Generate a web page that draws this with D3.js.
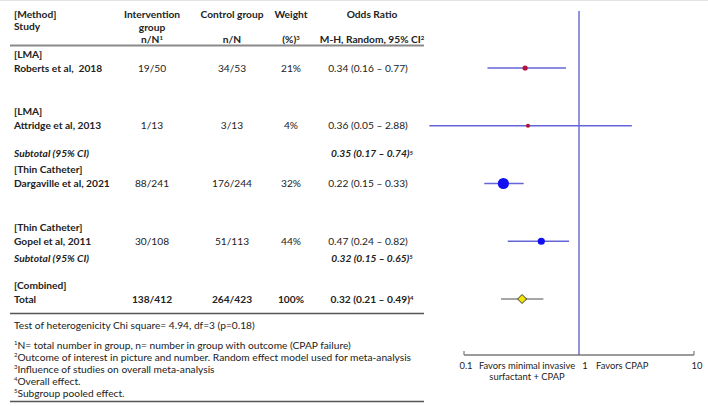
<!DOCTYPE html>
<html><head><meta charset="utf-8">
<script src="https://cdn.jsdelivr.net/npm/d3@7"></script>
<style>
body{margin:0;background:#fff;}
svg text{font-family:Lato,"Open Sans",sans-serif;font-size:10.2px;fill:#222;white-space:pre;}
svg text.ax{font-size:9.4px;}
</style></head>
<body><svg id="c" width="708" height="406"></svg>
<script>
// ---- data ----
const methods = ["[LMA]", "[LMA]", "[Thin Catheter]", "[Thin Catheter]"];
const studies = ["Roberts et al,  2018", "Attridge et al, 2013", "Dargaville et al, 2021", "Gopel et al, 2011"];
const intervention = ["19/50", "1/13", "88/241", "30/108"];
const control = ["34/53", "3/13", "176/244", "51/113"];
const weights = [21, 4, 32, 44];
const oddsRatio = [0.34, 0.36, 0.22, 0.47];
const ciLow = [0.16, 0.05, 0.15, 0.24];
const ciHigh = [0.77, 2.88, 0.33, 0.82];
const subtotalAfter = ["Attridge et al, 2013", "Gopel et al, 2011"];
const subtotalOR = [0.35, 0.32];
const subtotalLow = [0.17, 0.15];
const subtotalHigh = [0.74, 0.65];
const totalIntervention = "138/412";
const totalControl = "264/423";
const totalWeight = 100;
const totalOR = 0.32, totalLow = 0.21, totalHigh = 0.49;
const axisTicks = [0.1, 1, 10];
const footnotes = [
  ["1", "N= total number in group, n= number in group with outcome (CPAP failure)"],
  ["2", "Outcome of interest in picture and number. Random effect model used for meta-analysis"],
  ["3", "Influence of studies on overall meta-analysis"],
  ["4", "Overall effect."],
  ["5", "Subgroup pooled effect."]
];
// ---- styles ----
const dotColors = ["#b3123c", "#b3123c", "#1010f0", "#1010f0"];
const dotR = [2.6, 2.1, 5.6, 3.6];
const lineBlue = "#6464d8";

const svg = d3.select("#c");
const fmt = v => v.toFixed(2);
const x = d3.scaleLog().domain([0.1, 10]).range([464, 694]);
const y = d3.scalePoint().domain([...studies, "Total"]).range([68, 299]);
const col = {study: 14, int: 152, ctl: 232, wt: 291, or: 368};

// top faint border
svg.append("line").attr("x1",0).attr("x2",708).attr("y1",0.5).attr("y2",0.5).attr("stroke","#e2e2e2");

function txt(xp, yp, s, opts = {}) {
  const t = svg.append("text").attr("x", xp).attr("y", yp).attr("dy", "0.35em")
    .attr("class", opts.cls || null)
    .attr("text-anchor", opts.anchor || "start")
    .style("font-weight", opts.bold ? "bold" : null)
    .style("font-style", opts.italic ? "italic" : null);
  t.append("tspan").text(s);
  if (opts.sup) t.append("tspan").attr("dy", "-0.4em").style("font-size", "6px").text(opts.sup);
  return t;
}

// header
txt(col.study, 14, "[Method]", {bold: true});
txt(col.study, 26, "Study", {bold: true});
txt(col.int, 14, "Intervention", {anchor: "middle", bold: true});
txt(col.int, 27, "group", {anchor: "middle", bold: true});
txt(col.int, 39, "n/N", {anchor: "middle", bold: true, sup: "1"});
txt(col.ctl, 14, "Control group", {anchor: "middle", bold: true});
txt(col.ctl, 39, "n/N", {anchor: "middle", bold: true});
txt(col.wt, 14, "Weight", {anchor: "middle", bold: true});
txt(col.wt, 39, "(%)", {anchor: "middle", bold: true, sup: "3"});
txt(col.or + 4, 14, "Odds Ratio", {anchor: "middle", bold: true});
txt(col.or + 4, 39, "M-H, Random, 95% CI", {anchor: "middle", bold: true, sup: "2"});
svg.append("line").attr("x1", 10).attr("x2", 424).attr("y1", 45.5).attr("y2", 45.5)
  .attr("stroke", "#8a8a8a").attr("stroke-width", 2.2);

// study rows
studies.forEach((s, i) => {
  const yy = y(s);
  txt(col.study, yy - 14, methods[i], {bold: true});
  txt(col.study, yy, s, {bold: true});
  txt(col.int, yy, intervention[i], {anchor: "middle"});
  txt(col.ctl, yy, control[i], {anchor: "middle"});
  txt(col.wt, yy, weights[i] + "%", {anchor: "middle"});
  txt(col.or, yy, `${fmt(oddsRatio[i])} (${fmt(ciLow[i])} \u2013 ${fmt(ciHigh[i])})`, {anchor: "middle"});
});
// subtotals
const subOffset = [28, 17];
subtotalAfter.forEach((s, i) => {
  const yy = y(s) + subOffset[i];
  txt(col.study, yy, "Subtotal (95% CI)", {bold: true, italic: true});
  txt(col.or + 4, yy, `${fmt(subtotalOR[i])} (${fmt(subtotalLow[i])} \u2013 ${fmt(subtotalHigh[i])})`, {anchor: "middle", bold: true, italic: true, sup: "5"});
});
// total
const yt = y("Total");
txt(col.study, yt - 14, "[Combined]", {bold: true});
txt(col.study, yt, "Total", {bold: true});
txt(col.int, yt, totalIntervention, {anchor: "middle", bold: true});
txt(col.ctl, yt, totalControl, {anchor: "middle", bold: true});
txt(col.wt, yt, totalWeight + "%", {anchor: "middle", bold: true});
txt(col.or + 4, yt, `${fmt(totalOR)} (${fmt(totalLow)} \u2013 ${fmt(totalHigh)})`, {anchor: "middle", bold: true, sup: "4"});
svg.append("line").attr("x1", 10).attr("x2", 424).attr("y1", 313.5).attr("y2", 313.5)
  .attr("stroke", "#555").attr("stroke-width", 1.3);

txt(col.study, 325, "Test of heterogenicity Chi square= 4.94, df=3 (p=0.18)");
footnotes.forEach((f, i) => {
  const t = svg.append("text").attr("x", col.study).attr("y", 347 + i * 12).attr("dy", "0.35em");
  t.append("tspan").attr("dy", "-0.4em").style("font-size", "6px").text(f[0]);
  t.append("tspan").attr("dy", "0.4em").text(f[1]);
});
svg.append("line").attr("x1", 10).attr("x2", 424).attr("y1", 401.5).attr("y2", 401.5)
  .attr("stroke", "#555").attr("stroke-width", 1.3);

// ---- forest plot ----
const axisY = 355;
const ax = svg.append("g").attr("transform", `translate(0,${axisY})`);
ax.append("line").attr("x1", x(0.1)).attr("x2", x(10)).attr("stroke", "#7a7a7a").attr("stroke-width", 1.5);
ax.selectAll("line.tk").data([0.1, 10]).join("line").attr("class", "tk")
  .attr("x1", d => x(d)).attr("x2", d => x(d)).attr("y1", 0).attr("y2", -4)
  .attr("stroke", "#7a7a7a").attr("stroke-width", 1.2);
const tickOff = {0.1: 2, 1: 6, 10: 3};
axisTicks.forEach(t => {
  svg.append("text").attr("class", "ax").attr("x", x(t) + tickOff[t]).attr("y", 366).attr("dy", "0.35em")
    .attr("text-anchor", "middle").text(t);
});
txt(527, 366, "Favors minimal invasive", {anchor: "middle", cls: "ax"});
txt(527, 377, "surfactant + CPAP", {anchor: "middle", cls: "ax"});
txt(596, 366, "Favors CPAP", {cls: "ax"});

// line of no effect
svg.append("line").attr("x1", x(1)).attr("x2", x(1)).attr("y1", 11).attr("y2", axisY)
  .attr("stroke", "#5a5ac8").attr("stroke-width", 1.3);

// CIs
studies.forEach((s, i) => {
  svg.append("line").attr("x1", x(ciLow[i])).attr("x2", x(ciHigh[i]))
    .attr("y1", y(s)).attr("y2", y(s)).attr("stroke", lineBlue).attr("stroke-width", 1.4);
  svg.append("circle").attr("cx", x(oddsRatio[i])).attr("cy", y(s)).attr("r", dotR[i])
    .attr("fill", dotColors[i]);
});
// total
svg.append("line").attr("x1", x(totalLow)).attr("x2", x(totalHigh)).attr("y1", yt).attr("y2", yt)
  .attr("stroke", "#888").attr("stroke-width", 1.6);
const cx = x(totalOR), d = 4.5;
svg.append("path").attr("d", `M${cx},${yt - d}L${cx + d},${yt}L${cx},${yt + d}L${cx - d},${yt}Z`)
  .attr("fill", "#f2e600").attr("stroke", "#333").attr("stroke-width", 1);
</script></body></html>
